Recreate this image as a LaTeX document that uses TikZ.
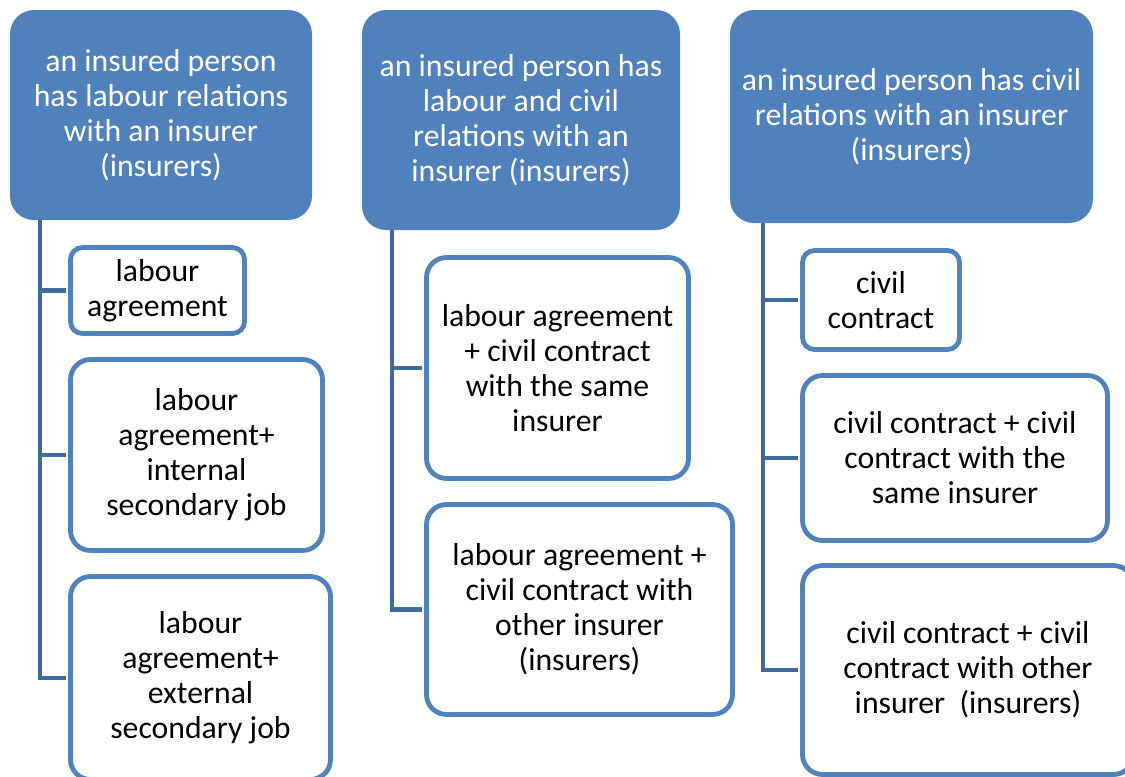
\documentclass[tikz,border=0pt]{standalone}
\usepackage{fontspec}
\setmainfont{Carlito}
\usepackage{tikz}
\usetikzlibrary{calc}
\definecolor{headblue}{HTML}{4F81BD}
\definecolor{linkblue}{HTML}{40699C}
\tikzset{
  head/.style={fill=headblue, text=white, rounded corners=18pt, inner sep=0pt, align=center,
    font=\fontsize{23.8pt}{26.25pt}\selectfont},
  leaf/.style={draw=headblue, line width=3.6pt, fill=white, rounded corners=15pt, inner sep=0pt,
    align=center, font=\fontsize{23.8pt}{26.25pt}\selectfont},
  link/.style={draw=linkblue, line width=3.2pt, shorten >=1.8pt}
}
\begin{document}
\begin{tikzpicture}[x=0.75pt, y=-0.75pt]
\useasboundingbox (0,0) rectangle (1125,776);
\fill[white] (0,0) rectangle (1125,776);
\clip (0,0) rectangle (1125,776);
% headers
\node [head, minimum width=226.5pt, minimum height=157.5pt] (h1) at (161,115)
  {an insured person\\has labour relations\\with an insurer\\(insurers)};
\node [head, minimum width=238.5pt, minimum height=165pt] (h2) at (521,120)
  {an insured person has\\labour and civil\\relations with an\\insurer (insurers)};
\node [head, minimum width=272.25pt, minimum height=159.75pt] (h3) at (911.5,116.5)
  {an insured person has civil\\relations with an insurer\\(insurers)};
% labour column
\node [leaf, rounded corners=9pt, minimum width=130.5pt, minimum height=64.5pt] (a1) at (157.5,290.5)
  {labour\\agreement};
\node [leaf, minimum width=189pt, minimum height=143.25pt] (a2) at (196.5,455)
  {labour\\agreement+\\internal\\secondary job};
\node [leaf, minimum width=195pt, minimum height=152.25pt] (a3) at (200.5,678)
  {labour\\agreement+\\external\\secondary job};
% labour and civil column
\node [leaf, minimum width=196.5pt, minimum height=165.75pt] (b1) at (557.5,368)
  {labour agreement\\+ civil contract\\with the same\\insurer};
\node [leaf, minimum width=229.5pt, minimum height=157.5pt] (b2) at (579.5,609.5)
  {labour agreement +\\civil contract with\\other insurer\\(insurers)};
% civil column
\node [leaf, rounded corners=9pt, minimum width=117.75pt, minimum height=74.25pt] (c1) at (881,300)
  {civil\\contract};
\node [leaf, minimum width=228.75pt, minimum height=123.75pt] (c2) at (955,458)
  {civil contract + civil\\contract with the\\same insurer};
\node [leaf, minimum width=248.25pt, minimum height=156.75pt] (c3) at (968,670)
  {civil contract + civil\\contract with other\\insurer~~(insurers)};
% connectors
\draw [link] (h1.south west) ++(30,0) |- (a1.west);
\draw [link] (h1.south west) ++(30,0) |- (a2.west);
\draw [link] (h1.south west) ++(30,0) |- (a3.west);
\draw [link] (h2.south west) ++(30,0) |- (b1.west);
\draw [link] (h2.south west) ++(30,0) |- (b2.west);
\draw [link] (h3.south west) ++(33,0) |- (c1.west);
\draw [link] (h3.south west) ++(33,0) |- (c2.west);
\draw [link] (h3.south west) ++(33,0) |- (c3.west);
\end{tikzpicture}
\end{document}
